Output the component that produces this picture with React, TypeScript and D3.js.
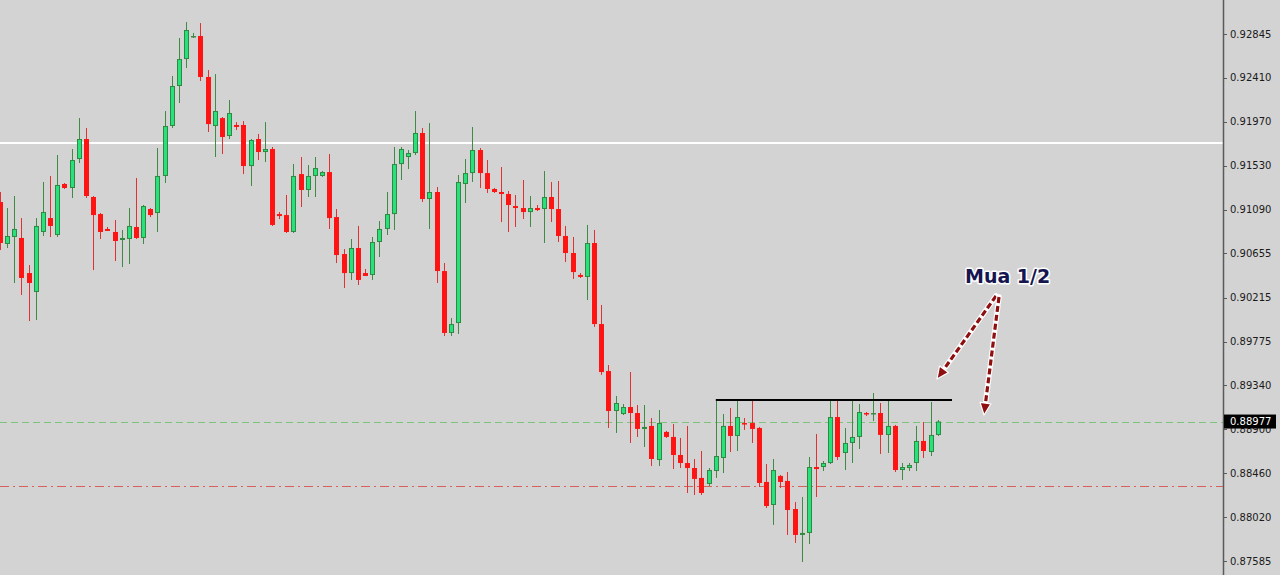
import React from 'react';
import * as d3 from 'd3';

const opens = [0.91168,0.90749,0.90819,0.90809,0.90459,0.90270,0.90869,0.91008,0.90839,0.91348,0.91308,0.91597,0.91797,0.91218,0.91048,0.90899,0.90869,0.90789,0.90799,0.90919,0.90809,0.91098,0.91058,0.91428,0.91927,0.92326,0.92595,0.92825,0.92825,0.92416,0.91927,0.92006,0.91827,0.91937,0.91937,0.91527,0.91797,0.91667,0.91697,0.91048,0.91038,0.90869,0.91447,0.91288,0.91428,0.91428,0.91467,0.91018,0.90649,0.90459,0.90709,0.90459,0.90440,0.90769,0.90899,0.91048,0.91547,0.91617,0.91657,0.91857,0.91198,0.91268,0.90479,0.89861,0.89960,0.91348,0.91457,0.91687,0.91457,0.91298,0.91268,0.91248,0.91128,0.91108,0.91068,0.91108,0.91098,0.91218,0.91098,0.90829,0.90659,0.90440,0.90420,0.90759,0.89950,0.89481,0.89082,0.89052,0.89122,0.89062,0.88903,0.88933,0.88593,0.88873,0.88823,0.88643,0.88563,0.88513,0.88414,0.88354,0.88483,0.88613,0.88933,0.88833,0.88962,0.88962,0.88913,0.88374,0.88144,0.88434,0.88384,0.88104,0.87845,0.87865,0.88523,0.88523,0.88563,0.89022,0.88663,0.88763,0.88823,0.89062,0.89062,0.89062,0.88843,0.88933,0.88493,0.88513,0.88563,0.88783,0.88673,0.88843];
const highs = [0.91268,0.91108,0.91228,0.91008,0.90539,0.91008,0.91368,0.91428,0.91637,0.91358,0.91697,0.92006,0.91907,0.91228,0.91058,0.90919,0.90988,0.90889,0.91108,0.91408,0.91138,0.91108,0.91707,0.92076,0.92426,0.92805,0.92964,0.92855,0.92954,0.92485,0.92445,0.92016,0.92186,0.91966,0.91976,0.91797,0.91847,0.91966,0.91717,0.91068,0.91238,0.91547,0.91617,0.91537,0.91617,0.91477,0.91647,0.91098,0.90699,0.90799,0.90929,0.90499,0.90819,0.90978,0.91268,0.91717,0.91717,0.91687,0.92076,0.91907,0.91956,0.91318,0.90559,0.90010,0.91438,0.91597,0.91917,0.91707,0.91587,0.91308,0.91517,0.91278,0.91238,0.91388,0.91228,0.91138,0.91477,0.91368,0.91378,0.90929,0.90819,0.90459,0.90939,0.90889,0.90140,0.89541,0.89232,0.89152,0.89471,0.89142,0.89142,0.89012,0.89092,0.88883,0.88952,0.88813,0.88933,0.88603,0.88683,0.88513,0.89202,0.89052,0.89112,0.89192,0.89012,0.89192,0.88923,0.88553,0.88603,0.88444,0.88473,0.88174,0.88224,0.88623,0.88853,0.88583,0.89202,0.89192,0.88913,0.89182,0.89152,0.89072,0.89262,0.89162,0.89202,0.88943,0.88563,0.88563,0.88933,0.88972,0.89172,0.88992];
const lows = [0.90689,0.90709,0.90360,0.90240,0.89980,0.89990,0.90829,0.90819,0.90819,0.91298,0.91208,0.91557,0.91208,0.90489,0.90799,0.90879,0.90579,0.90519,0.90549,0.90799,0.90749,0.91018,0.90869,0.91358,0.91907,0.92156,0.92505,0.92805,0.92376,0.91867,0.91617,0.91647,0.91797,0.91887,0.91447,0.91328,0.91587,0.91567,0.90929,0.90998,0.90859,0.90859,0.91118,0.91218,0.91218,0.91418,0.90899,0.90559,0.90310,0.90390,0.90340,0.90430,0.90390,0.90619,0.90839,0.90889,0.91388,0.91497,0.91637,0.91168,0.90899,0.90360,0.89831,0.89831,0.89851,0.91158,0.91368,0.91308,0.91258,0.91258,0.90968,0.90869,0.90919,0.90998,0.90919,0.91078,0.90759,0.90968,0.90769,0.90569,0.90400,0.90410,0.90190,0.89921,0.89442,0.88913,0.88863,0.89042,0.88763,0.88823,0.88723,0.88533,0.88533,0.88813,0.88503,0.88513,0.88264,0.88244,0.88244,0.88334,0.88414,0.88463,0.88673,0.88683,0.88893,0.88763,0.88324,0.88114,0.87945,0.88314,0.87845,0.87765,0.87575,0.87755,0.88224,0.88483,0.88553,0.88593,0.88493,0.88563,0.88703,0.89032,0.88982,0.88653,0.88663,0.88473,0.88394,0.88483,0.88483,0.88613,0.88633,0.88833];
const closes = [0.90759,0.90829,0.90899,0.90410,0.90360,0.90929,0.91068,0.90929,0.91338,0.91308,0.91587,0.91797,0.91228,0.91038,0.90869,0.90879,0.90779,0.90809,0.90929,0.90809,0.91128,0.91038,0.91428,0.91927,0.92326,0.92595,0.92885,0.92825,0.92416,0.91946,0.92076,0.91817,0.92056,0.91917,0.91527,0.91787,0.91667,0.91697,0.90939,0.91028,0.90869,0.91428,0.91288,0.91428,0.91507,0.91467,0.91008,0.90639,0.90459,0.90709,0.90390,0.90430,0.90769,0.90899,0.91048,0.91547,0.91697,0.91657,0.91857,0.91198,0.91268,0.90479,0.89861,0.89950,0.91368,0.91457,0.91687,0.91457,0.91298,0.91268,0.91248,0.91138,0.91108,0.91068,0.91108,0.91088,0.91218,0.91098,0.90829,0.90659,0.90469,0.90420,0.90759,0.89950,0.89471,0.89082,0.89162,0.89122,0.89062,0.88903,0.88923,0.88603,0.88962,0.88823,0.88643,0.88563,0.88513,0.88404,0.88264,0.88493,0.88633,0.88933,0.88833,0.89022,0.88952,0.88903,0.88364,0.88134,0.88493,0.88374,0.88094,0.87845,0.87865,0.88523,0.88503,0.88563,0.89022,0.88623,0.88763,0.88823,0.89072,0.89052,0.89062,0.88843,0.88933,0.88493,0.88523,0.88543,0.88783,0.88683,0.88843,0.88977];

const axisTicks = [0.92845,0.92410,0.91970,0.91530,0.91090,0.90655,0.90215,0.89775,0.89340,0.88900,0.88460,0.88020,0.87585];
const whiteLevel = 0.91757;
const currentPrice = 0.88977;
const supportLevel = 0.88334;
const resistanceLevel = 0.89192;
const resistanceRange = [100, 133];
const annotationText = 'Mua 1/2';

const W = 1280;
const H = 575;
const AXIS_X = 1223;

const BULL_FILL = '#27e27c';
const BULL_STROKE = '#2f8a3f';
const BULL_WICK = '#3f8a45';
const BEAR_FILL = '#ff1414';
const BEAR_WICK = '#e23030';

function Arrow({ x1, y1, x2, y2 }: { x1: number; y1: number; x2: number; y2: number }) {
  const ang = Math.atan2(y2 - y1, x2 - x1);
  const len = 12;
  const hw = 5.5;
  const bx = x2 - len * Math.cos(ang);
  const by = y2 - len * Math.sin(ang);
  const px = -Math.sin(ang);
  const py = Math.cos(ang);
  const pts = [
    [x2, y2],
    [bx + px * hw, by + py * hw],
    [bx - px * hw, by - py * hw],
  ];
  const pathD = d3.line()(pts as [number, number][]) + 'Z';
  return (
    <g>
      <line x1={x1} y1={y1} x2={bx} y2={by} stroke="#ffffff" strokeWidth={5.5} strokeDasharray="6,3" strokeLinecap="round" />
      <line x1={x1} y1={y1} x2={bx} y2={by} stroke="#8e0f0f" strokeWidth={3.2} strokeDasharray="6,3" />
      <path d={pathD} fill="#8e0f0f" stroke="#ffffff" strokeWidth={1.2} strokeLinejoin="round" />
    </g>
  );
}

export default function App() {
  const x = d3.scaleLinear().domain([0, 131]).range([0, 937.7]);
  const y = d3.scaleLinear().domain([0.87585, 0.92845]).range([561, 34]);

  const candles = opens.map((o, i) => {
    const c = closes[i];
    const hi = highs[i];
    const lo = lows[i];
    const bull = c >= o;
    const cx = Math.round(x(i));
    const top = y(Math.max(o, c));
    const bot = y(Math.min(o, c));
    const bh = Math.max(1, bot - top);
    return (
      <g key={i}>
        <line x1={cx + 0.5} x2={cx + 0.5} y1={y(hi)} y2={y(lo)} stroke={bull ? BULL_WICK : BEAR_WICK} strokeWidth={1} />
        {bh > 2 ? (
          bull ? (
            <rect x={cx - 1.5} y={top + 0.5} width={4} height={bh - 1} fill={BULL_FILL} stroke={BULL_STROKE} strokeWidth={1} />
          ) : (
            <rect x={cx - 2} y={top} width={5} height={bh} fill={BEAR_FILL} />
          )
        ) : (
          <rect x={cx - 2} y={top} width={5} height={Math.max(1.5, bh)} fill={bull ? BULL_WICK : BEAR_FILL} />
        )}
      </g>
    );
  });

  const fmt = d3.format('.5f');
  const cy = y(currentPrice);

  return (
    <svg width={W} height={H} style={{ position: 'absolute', left: 0, top: 0, display: 'block' }} fontFamily="'DejaVu Sans', Tahoma, sans-serif">
      <rect x={0} y={0} width={W} height={H} fill="#d3d3d3" />
      <line x1={0} x2={AXIS_X} y1={y(whiteLevel)} y2={y(whiteLevel)} stroke="#ffffff" strokeWidth={2} />
      <line x1={0} x2={AXIS_X} y1={Math.round(y(supportLevel)) + 0.5} y2={Math.round(y(supportLevel)) + 0.5} stroke="#d8605c" strokeWidth={1} strokeDasharray="9,4,2,4" />
      <line x1={0} x2={AXIS_X} y1={Math.round(cy) + 0.5} y2={Math.round(cy) + 0.5} stroke="#7cc47c" strokeWidth={1} strokeDasharray="7,4" />
      {candles}
      <line x1={x(resistanceRange[0])} x2={x(resistanceRange[1])} y1={y(resistanceLevel)} y2={y(resistanceLevel)} stroke="#000000" strokeWidth={2} />
      <Arrow x1={996} y1={296} x2={937} y2={379} />
      <Arrow x1={999} y1={297} x2={984} y2={415} />
      <text x={965} y={283} fontSize={19} fontWeight="bold" fill="#15154f" stroke="#ffffff" strokeWidth={3} paintOrder="stroke" strokeLinejoin="round" fontFamily="'DejaVu Sans', Verdana, sans-serif">{annotationText}</text>
      <line x1={AXIS_X + 0.5} x2={AXIS_X + 0.5} y1={0} y2={H} stroke="#5a5a5a" strokeWidth={1.5} />
      {axisTicks.map((t) => (
        <g key={t}>
          <line x1={AXIS_X} x2={AXIS_X + 4} y1={Math.round(y(t)) + 0.5} y2={Math.round(y(t)) + 0.5} stroke="#5a5a5a" />
          <text x={1230} y={y(t)} dy="0.35em" fontSize={10} fill="#1a1a1a">{fmt(t)}</text>
        </g>
      ))}
      <rect x={AXIS_X + 1} y={cy - 7} width={52} height={14} fill="#000000" />
      <text x={1230} y={cy} dy="0.35em" fontSize={10} fill="#ffffff">{fmt(currentPrice)}</text>
    </svg>
  );
}
